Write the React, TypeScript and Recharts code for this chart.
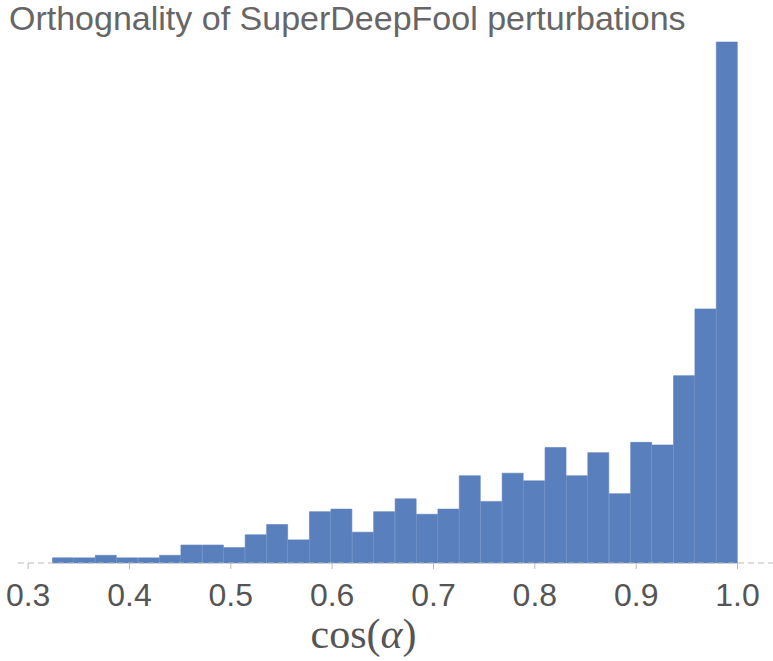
import { BarChart, Bar, XAxis, YAxis, Label } from 'recharts';

// histogram bin centres (cos alpha)
const binCenters = [
  0.3346, 0.3557, 0.3768, 0.398, 0.4191, 0.4402, 0.4613, 0.4825,
  0.5036, 0.5247, 0.5459, 0.567, 0.5881, 0.6093, 0.6304, 0.6515,
  0.6727, 0.6938, 0.7149, 0.736, 0.7572, 0.7783, 0.7994, 0.8206,
  0.8417, 0.8628, 0.884, 0.9051, 0.9262, 0.9474, 0.9685, 0.9896,
];

// counts per bin
const counts = [
  2, 2, 3, 2, 2, 3, 7, 7,
  6, 11, 15, 9, 20, 21, 12, 20,
  25, 19, 21, 34, 24, 35, 32, 45,
  34, 43, 27, 47, 46, 73, 99, 203,
];

const xTicks = [0.3, 0.4, 0.5, 0.6, 0.7, 0.8, 0.9, 1.0];

const data = binCenters.map((x, i) => ({ x, count: counts[i] }));

const TITLE = 'Orthognality of SuperDeepFool perturbations';
const BAR = '#5a7fbd';

// x label with an italic alpha, like the LaTeX one
const XLabel = (props: any) => {
  const vb = props.viewBox || {};
  const cx = vb.x + vb.width / 2 - 32;
  return (
    <text
      x={cx}
      y={648}
      textAnchor="middle"
      fill="#555"
      style={{ fontSize: 42, fontFamily: '"Liberation Serif", "DejaVu Serif", serif' }}
    >
      cos(<tspan fontStyle="italic">α</tspan>)
    </text>
  );
};

export default function App() {
  return (
    <div style={{ position: 'absolute', left: 0, top: 0, width: 773, height: 661, background: '#fff' }}>
      <div
        style={{
          position: 'absolute',
          left: 9,
          top: 1,
          fontFamily: '"Liberation Sans", Arial, sans-serif',
          fontSize: 34,
          lineHeight: '34px',
          color: '#666',
          whiteSpace: 'nowrap',
        }}
      >
        {TITLE}
      </div>
      <BarChart
        width={773}
        height={661}
        data={data}
        margin={{ top: 42, right: 0, bottom: 0, left: 18 }}
        barCategoryGap={0}
        barGap={0}
      >
        <XAxis
          dataKey="x"
          type="number"
          domain={[0.29, 1.035]}
          ticks={xTicks}
          tickFormatter={(v: number) => v.toFixed(1)}
          height={98}
          axisLine={{ stroke: '#bbb', strokeDasharray: '6 4' }}
          tickLine={{ stroke: '#bbb' }}
          tickSize={6}
          tick={{ fill: '#555', fontSize: 32, dy: 12, fontFamily: '"Liberation Sans", Arial, sans-serif' }}
          interval={0}
        >
          <Label content={XLabel} />
        </XAxis>
        <YAxis hide domain={[0, 203]} width={0} />
        <Bar dataKey="count" fill={BAR} stroke={BAR} strokeWidth={0.6} isAnimationActive={false} />
      </BarChart>
    </div>
  );
}
